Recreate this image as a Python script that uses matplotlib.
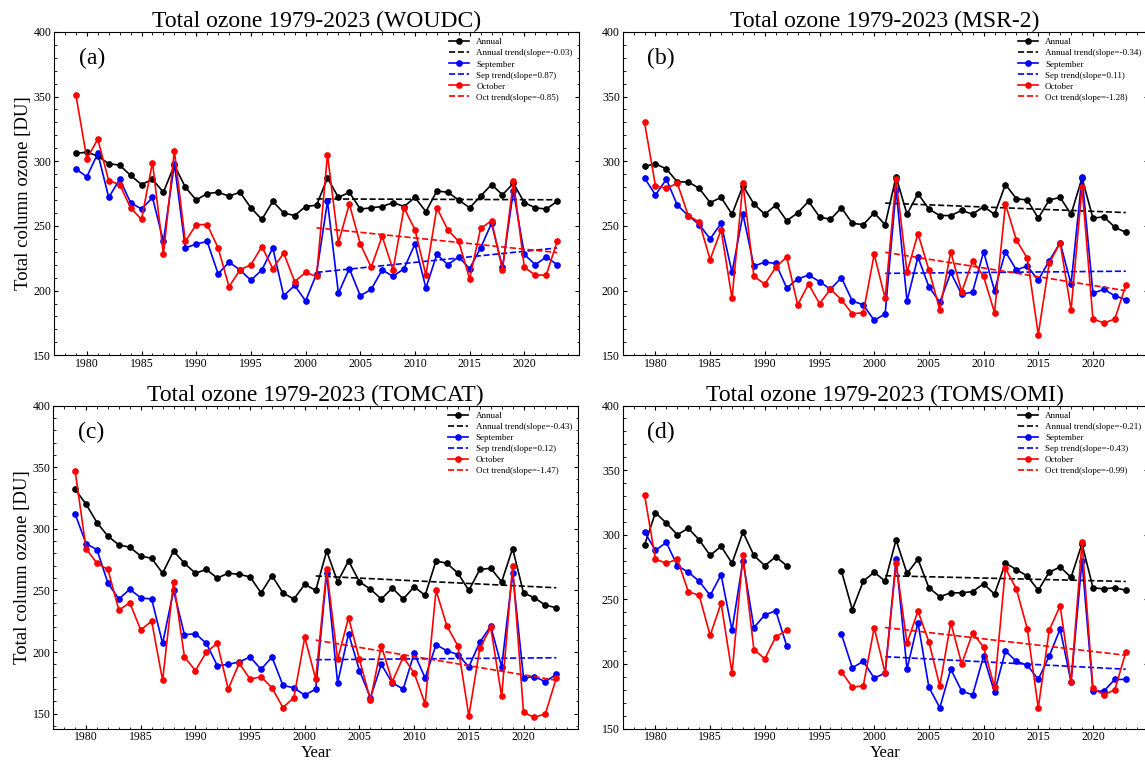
"""Total ozone 1979-2023: annual / September / October means for four datasets,
with 2001-2023 linear trends. Writes out.png."""

import matplotlib

matplotlib.use("Agg")

import matplotlib.pyplot as plt  # noqa: E402
import numpy as np  # noqa: E402
from matplotlib.ticker import MultipleLocator  # noqa: E402

NAN = np.nan
YEARS = np.arange(1979, 2024)
TREND_START = 2001

# (a) WOUDC
WOUDC_ANNUAL = [306, 307, 304, 298, 297, 289, 282, 286, 276, 297, 280, 270, 275, 276, 273,
                276, 264, 255, 269, 260, 258, 265, 266, 287, 272, 276, 263, 264, 265, 268,
                265, 272, 261, 277, 276, 270, 264, 273, 282, 274, 283, 268, 264, 263, 269]
WOUDC_SEP = [294, 288, 306, 272, 286, 268, 263, 272, 238, 298, 233, 236, 238, 213, 222,
             216, 208, 216, 233, 196, 204, 192, 213, 269, 198, 217, 196, 201, 216, 211,
             217, 236, 202, 228, 220, 226, 217, 233, 252, 218, 277, 228, 220, 226, 220]
WOUDC_OCT = [351, 302, 317, 285, 282, 264, 255, 299, 228, 308, 238, 251, 251, 233, 203,
             216, 220, 234, 217, 229, 207, 214, 211, 305, 237, 267, 236, 218, 242, 216,
             264, 247, 212, 264, 247, 238, 209, 248, 254, 216, 285, 218, 212, 212, 238]

# (b) MSR-2
MSR2_ANNUAL = [296, 298, 294, 284, 284, 279, 268, 272, 259, 281, 267, 259, 266, 254, 260,
               269, 257, 255, 264, 252, 251, 260, 251, 288, 259, 275, 263, 258, 258, 262,
               259, 265, 259, 282, 271, 270, 256, 270, 272, 259, 287, 256, 257, 249, 245]
MSR2_SEP = [287, 274, 286, 266, 258, 251, 240, 252, 214, 259, 219, 222, 221, 202, 209,
            212, 207, 201, 210, 192, 189, 177, 182, 278, 192, 226, 203, 191, 214, 197,
            199, 230, 200, 230, 216, 219, 208, 223, 237, 205, 288, 198, 201, 196, 193]
MSR2_OCT = [330, 281, 279, 283, 258, 253, 224, 247, 194, 283, 211, 205, 218, 226, 189,
            205, 190, 201, 193, 182, 183, 228, 194, 286, 214, 244, 216, 185, 230, 199,
            223, 211, 183, 267, 239, 225, 166, 221, 237, 185, 280, 178, 175, 178, 204]

# (c) TOMCAT
TOMCAT_ANNUAL = [332, 320, 305, 294, 287, 285, 278, 276, 264, 282, 272, 264, 267, 260, 264,
                 263, 261, 248, 262, 248, 243, 255, 250, 282, 257, 274, 257, 251, 243, 252,
                 243, 253, 246, 274, 272, 264, 250, 267, 268, 257, 284, 248, 244, 238, 236]
TOMCAT_SEP = [312, 288, 283, 256, 243, 251, 244, 243, 207, 250, 214, 215, 207, 189, 190,
              192, 196, 186, 196, 173, 171, 165, 170, 264, 175, 215, 185, 163, 190, 175,
              170, 199, 179, 206, 201, 198, 188, 208, 221, 188, 264, 179, 180, 176, 182]
TOMCAT_OCT = [347, 284, 272, 267, 234, 240, 218, 225, 177, 257, 196, 185, 200, 207, 170,
              191, 178, 180, 171, 155, 163, 212, 178, 267, 194, 228, 194, 161, 205, 176,
              196, 183, 158, 250, 221, 205, 148, 203, 220, 164, 270, 151, 147, 150, 179]

# (d) TOMS/OMI -- no data 1993-1996
TOMS_ANNUAL = [292, 317, 309, 300, 305, 296, 284, 291, 278, 302, 284, 276, 283, 276, NAN,
               NAN, NAN, NAN, 272, 242, 264, 271, 264, 296, 270, 281, 259, 252, 255, 255,
               256, 262, 254, 278, 273, 268, 257, 271, 275, 267, 293, 259, 258, 259, 257]
TOMS_SEP = [302, 288, 294, 276, 271, 264, 253, 269, 226, 280, 228, 238, 241, 214, NAN,
            NAN, NAN, NAN, 223, 197, 202, 189, 193, 281, 196, 232, 182, 166, 196, 179,
            176, 206, 178, 210, 202, 199, 188, 206, 227, 186, 280, 179, 179, 188, 188]
TOMS_OCT = [331, 281, 278, 281, 256, 253, 222, 247, 193, 284, 211, 204, 221, 226, NAN,
            NAN, NAN, NAN, 194, 182, 183, 228, 193, 278, 216, 241, 217, 183, 232, 200,
            224, 213, 182, 274, 258, 227, 166, 226, 245, 186, 294, 181, 176, 180, 209]

PANELS = ["(a)", "(b)", "(c)", "(d)"]
DATASETS = ["WOUDC", "MSR-2", "TOMCAT", "TOMS/OMI"]
SLOPES = [(-0.03, 0.87, -0.85), (-0.34, 0.11, -1.28),
          (-0.43, 0.12, -1.47), (-0.21, -0.43, -0.99)]
SERIES = [(WOUDC_ANNUAL, WOUDC_SEP, WOUDC_OCT), (MSR2_ANNUAL, MSR2_SEP, MSR2_OCT),
          (TOMCAT_ANNUAL, TOMCAT_SEP, TOMCAT_OCT), (TOMS_ANNUAL, TOMS_SEP, TOMS_OCT)]
YMIN = [150, 150, 138, 150]

# axes rectangles in figure fractions (left, bottom, width, height)
RECTS = [(0.0472, 0.5331, 0.4585, 0.4251), (0.5438, 0.5331, 0.4585, 0.4251),
         (0.0465, 0.0427, 0.4585, 0.4244), (0.5438, 0.0427, 0.4585, 0.4244)]

plt.rcParams["font.family"] = ["Liberation Serif", "DejaVu Serif"]


def trend(values):
    y = np.asarray(values, dtype=float)
    sel = YEARS >= TREND_START
    k, b = np.polyfit(YEARS[sel], y[sel], 1)
    xs = YEARS[sel]
    return xs, k * xs + b


def main() -> None:
    fig = plt.figure(figsize=(11.45, 7.61), dpi=100)
    for i, rect in enumerate(RECTS):
        ax = fig.add_axes(rect)
        annual, sep, octo = SERIES[i]
        s_ann, s_sep, s_oct = SLOPES[i]
        mk = dict(marker="o", markersize=3.8, linewidth=1.2)

        ax.plot(YEARS, annual, color="black", label="Annual", **mk)
        ax.plot(*trend(annual), "--", color="black", linewidth=1.2,
                label=f"Annual trend(slope={s_ann:.2f})")
        ax.plot(YEARS, sep, color="blue", label="September", **mk)
        ax.plot(*trend(sep), "--", color="blue", linewidth=1.2,
                label=f"Sep trend(slope={s_sep:.2f})")
        ax.plot(YEARS, octo, color="red", label="October", **mk)
        ax.plot(*trend(octo), "--", color="red", linewidth=1.2,
                label=f"Oct trend(slope={s_oct:.2f})")

        ax.set_xlim(1977, 2025)
        ax.set_ylim(YMIN[i], 400)
        ax.xaxis.set_minor_locator(MultipleLocator(1))
        ax.yaxis.set_minor_locator(MultipleLocator(10))
        ax.set_xticks(np.arange(1980, 2021, 5))
        ax.set_yticks(np.arange(150, 401, 50))
        ax.tick_params(which="both", direction="in", top=True, right=True,
                       labelsize=8.5, pad=2)
        ax.tick_params(which="major", length=3)
        ax.tick_params(which="minor", length=1.8)

        ax.set_title(f"Total ozone 1979-2023 ({DATASETS[i]})", fontsize=17, pad=3)
        ax.text(0.072, 0.918, PANELS[i], transform=ax.transAxes, fontsize=17,
                ha="center", va="center")
        if i % 2 == 0:
            ax.set_ylabel("Total column ozone [DU]", fontsize=13.5, labelpad=1)
        if i >= 2:
            ax.set_xlabel("Year", fontsize=12, labelpad=1)

        ax.legend(loc="upper right", frameon=False, fontsize=6.5, labelspacing=0.3,
                  handlelength=2.2, borderaxespad=0.3, borderpad=0.4)

    fig.savefig("out.png", dpi=100)


if __name__ == "__main__":
    main()
